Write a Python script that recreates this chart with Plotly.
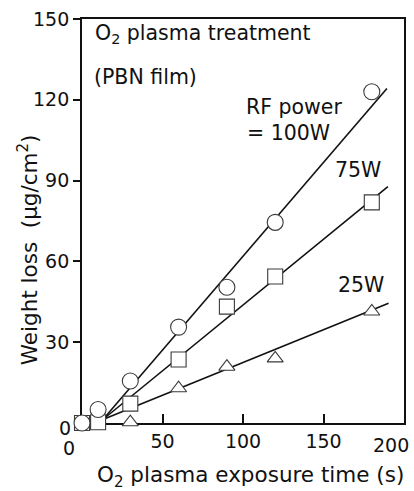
import plotly.graph_objects as go

# Data
time_100 = [0, 10, 30, 60, 90, 120, 180]
loss_100 = [0, 5.0, 15.6, 35.6, 50.4, 74.5, 123.0]
time_75 = [0, 10, 30, 60, 90, 120, 180]
loss_75 = [0, 0.3, 7.2, 23.6, 43.2, 54.4, 81.9]
time_25 = [30, 60, 90, 120, 180]
loss_25 = [0.3, 12.9, 20.9, 24.0, 41.4]

# Fitted lines (endpoints)
fit100_x = [13, 189.4]
fit100_y = [1.3, 124.2]
fit75_x = [13, 190]
fit75_y = [1.3, 87.8]
fit25_x = [13, 190.4]
fit25_y = [1.3, 44.5]

# Inner tick labels drawn by the axes; the end labels ("0", "200") are placed as in the reference
x_ticks = [50, 100, 150]
x_ticklabels = ["50", "100", "150"]
y_ticks = [30, 60, 90, 120, 150]
y_ticklabels = ["30", "60", "90", "120", "150"]

FONT = "DejaVu Sans"
TXT = "#111111"
MK = "#3a3a3a"

fig = go.Figure()
for fx, fy in [(fit25_x, fit25_y), (fit75_x, fit75_y), (fit100_x, fit100_y)]:
    fig.add_trace(go.Scatter(x=fx, y=fy, mode="lines",
                             line=dict(color="#111111", width=1.6),
                             showlegend=False, hoverinfo="skip", cliponaxis=False))

fig.add_trace(go.Scatter(x=time_25, y=loss_25, mode="markers", showlegend=False, cliponaxis=False,
                         marker=dict(symbol="triangle-up", size=14, color="white",
                                     line=dict(color=MK, width=1.1))))
fig.add_trace(go.Scatter(x=time_75, y=loss_75, mode="markers", showlegend=False, cliponaxis=False,
                         marker=dict(symbol="square", size=15, color="white",
                                     line=dict(color=MK, width=1.1))))
fig.add_trace(go.Scatter(x=time_100, y=loss_100, mode="markers", showlegend=False, cliponaxis=False,
                         marker=dict(symbol="circle", size=16, color="white",
                                     line=dict(color=MK, width=1.1))))

def note(text, x, y, size=20.5, xref="x", yref="y", xanchor="left", angle=0):
    fig.add_annotation(text=text, x=x, y=y, xref=xref, yref=yref, showarrow=False,
                       xanchor=xanchor, yanchor="middle", textangle=angle,
                       font=dict(family=FONT, size=size, color=TXT))

note("O<sub>2</sub> plasma treatment", 7.1, 144.6)
note("(PBN film)", 6.5, 128.3)
note("RF power", 100.8, 117.5)
note("= 100W", 101.4, 107.6)
note("75W", 156.2, 93.8)
note("25W", 157.5, 51.3)
# end tick labels placed as in the reference
note("0", -0.0416, -0.0613, size=19, xref="paper", yref="paper", xanchor="center")
note("200", 0.960, -0.0552, size=19, xref="paper", yref="paper", xanchor="center")
note("0", -0.0293, -0.0135, size=19, xref="paper", yref="paper", xanchor="right")
# axis titles
note("O<sub>2</sub> plasma exposure time (s)", 0.5245, -0.132, size=21.5, xref="paper", yref="paper", xanchor="center")
note("Weight loss  (µg/cm<sup>2</sup>)", -0.168, 0.43, size=21.5, xref="paper", yref="paper", xanchor="center", angle=-90)

fig.update_layout(
    width=414, height=491,
    margin=dict(l=81.5, r=8, t=16, b=67.5),
    paper_bgcolor="white", plot_bgcolor="white",
    font=dict(family=FONT, color=TXT),
    xaxis=dict(range=[0, 200], tickvals=x_ticks, ticktext=x_ticklabels,
               ticks="inside", ticklen=9, tickwidth=1.5, tickcolor="#111",
               showline=True, linecolor="#111", linewidth=1.8, mirror=True,
               showgrid=False, zeroline=False, layer="below traces",
               tickfont=dict(family=FONT, size=19, color=TXT)),
    yaxis=dict(range=[0, 150], tickvals=y_ticks, ticktext=y_ticklabels,
               ticks="outside", ticklen=7, tickwidth=1.5, tickcolor="#111",
               showline=True, linecolor="#111", linewidth=1.8, mirror=True,
               showgrid=False, zeroline=False, layer="below traces",
               tickfont=dict(family=FONT, size=19, color=TXT)),
)

fig.write_html("out.html", config={"displayModeBar": False},
               post_script="document.body.style.margin='0';document.body.style.overflow='hidden';")
